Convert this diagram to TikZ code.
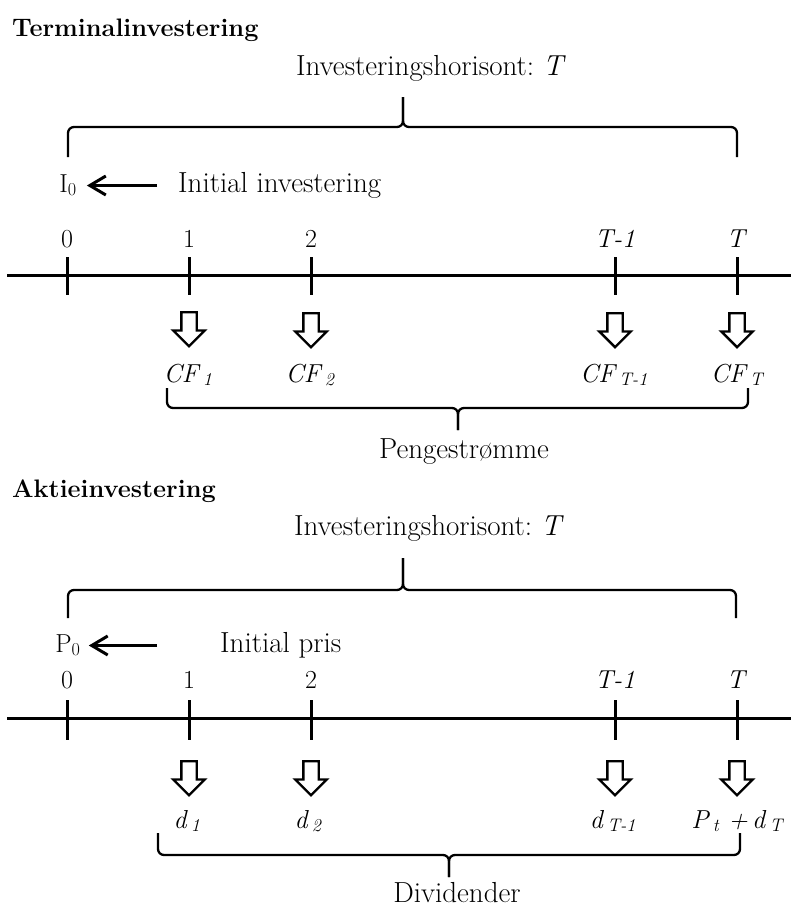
\documentclass[tikz,border=0pt]{standalone}
\usepackage{tikz}
\usetikzlibrary{arrows.meta, positioning, shapes.arrows}

\begin{document}
\begin{tikzpicture}[
  x=1pt, y=-1pt,
  every node/.style={font=\fontsize{26}{31}\selectfont},
  txt/.style={anchor=base, inner sep=0pt},
  bigtxt/.style={txt, font=\fontsize{29}{34}\selectfont},
  title/.style={anchor=base west, inner sep=0pt, font=\fontsize{25.3}{30}\selectfont\bfseries},
  sidetxt/.style={txt, text height=18pt, text depth=5pt},
  axis/.style={line width=3pt},
  brace/.style={line width=2.3pt, rounded corners=6pt},
  flow/.style={single arrow, draw, line width=2.4pt, shape border rotate=270,
               minimum height=34pt, minimum width=30pt, inner sep=6.5pt,
               single arrow head extend=8pt, anchor=tail},
  larrow/.style={-{Straight Barb[length=16pt, width=19pt]}, line width=3pt}
]
\useasboundingbox (0,0) rectangle (791,907);

% Terminalinvestering
\node[title] (title1) at (12,37) {Terminalinvestering};
\node[bigtxt] (hor1) at (431,75) {Investeringshorisont:\ \textit{T}};
\draw[brace] (68,157) |- (403,127) -- (403,97);
\draw[brace] (737,157) |- (403,127) -- (403,97);

\node[sidetxt] (i0) at (68,192) {I\textsubscript{0}};
\node[sidetxt, bigtxt, anchor=base west] (init1) at (178,192) {Initial investering};
\draw[larrow, shorten <=21pt, shorten >=10pt] (init1.west) -- (init1.west -| i0.east);

\node[txt] (a0) at (67,247) {0};
\node[txt] (a1) at (189,247) {1};
\node[txt] (a2) at (311,247) {2};
\node[txt] (a3) at (615,247) {\textit{T-1}};
\node[txt] (a4) at (737,247) {\textit{T}};

\draw[axis] (7,275) -- (791,275);
\draw[axis] (67,257) -- (67,295) (189,257) -- (189,295) (311,257) -- (311,295)
            (615,257) -- (615,295) (737,257) -- (737,295);

\node[flow] (f1) at (189,311) {};
\node[flow] (f2) at (311,312) {};
\node[flow] (f3) at (615,312) {};
\node[flow] (f4) at (737,312) {};

\node[txt] (cf1) at (188,382) {\textit{CF\,\textsubscript{1}}};
\node[txt] (cf2) at (310,382) {\textit{CF\,\textsubscript{2}}};
\node[txt] (cf3) at (614,382) {\textit{CF\,\textsubscript{T-1}}};
\node[txt] (cf4) at (737,382) {\textit{CF\,\textsubscript{T}}};

\draw[brace] (167,388) |- (458,408) -- (458,430);
\draw[brace] (748,388) |- (458,408) -- (458,430);
\node[bigtxt] (cash) at (464,458) {Pengestrømme};

% Aktieinvestering
\node[title] (title2) at (12,497) {Aktieinvestering};
\node[bigtxt] (hor2) at (429,535) {Investeringshorisont:\ \textit{T}};
\draw[brace] (68,618) |- (403,590) -- (403,558);
\draw[brace] (736,618) |- (403,590) -- (403,558);

\node[sidetxt] (p0) at (68,652) {P\textsubscript{0}};
\node[sidetxt, bigtxt, anchor=base west] (init2) at (220,652) {Initial pris};
\draw[larrow, shorten <=63pt, shorten >=8pt] (init2.west) -- (init2.west -| p0.east);

\node[txt] (b0) at (67,688) {0};
\node[txt] (b1) at (189,688) {1};
\node[txt] (b2) at (311,688) {2};
\node[txt] (b3) at (615,688) {\textit{T-1}};
\node[txt] (b4) at (737,688) {\textit{T}};

\draw[axis] (7,718) -- (791,718);
\draw[axis] (67,700) -- (67,740) (189,700) -- (189,740) (311,700) -- (311,740)
            (615,700) -- (615,740) (737,700) -- (737,740);

\node[flow] (g1) at (189,760) {};
\node[flow] (g2) at (311,760) {};
\node[flow] (g3) at (615,760) {};
\node[flow] (g4) at (737,760) {};

\node[txt] (d1) at (187,828) {\textit{d\,\textsubscript{1}}};
\node[txt] (d2) at (308,828) {\textit{d\,\textsubscript{2}}};
\node[txt] (d3) at (613,828) {\textit{d\,\textsubscript{T-1}}};
\node[txt] (d4) at (737,828) {\textit{P\,\textsubscript{t} +\,d\,\textsubscript{T}}};

\draw[brace] (158,833) |- (449,855) -- (449,877);
\draw[brace] (740,833) |- (449,855) -- (449,877);
\node[bigtxt] (divs) at (457,902) {Dividender};

\end{tikzpicture}
\end{document}
